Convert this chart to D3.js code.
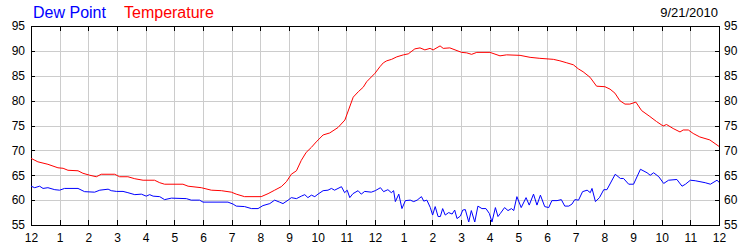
<!DOCTYPE html>
<html>
<head>
<meta charset="utf-8">
<script src="https://cdn.jsdelivr.net/npm/d3@7"></script>
<style>
  body { margin: 0; background: #fff; }
  svg { display: block; font-family: Arial, "Liberation Sans", sans-serif; }
  .grid line { stroke: #cccccc; stroke-width: 1; shape-rendering: crispEdges; }
  .axis path, .axis line { stroke: #000; shape-rendering: crispEdges; }
  .axis text { font-size: 12px; fill: #000; font-family: Arial, "Liberation Sans", sans-serif; }
</style>
</head>
<body>
<div class="viz"></div>
<script>
// hours since midnight and readings (deg F)
var tempHours = [0, 0.24, 0.59, 0.94, 1.12, 1.29, 1.64, 1.81, 2.05, 2.28, 2.45, 2.92, 3.09, 3.38, 3.62, 3.91,
  4.31, 4.49, 4.66, 5.30, 5.48, 5.94, 6.29, 6.64, 6.99, 7.16, 7.45, 8.03, 8.27, 8.50, 8.73, 8.91,
  9.08, 9.26, 9.43, 9.60, 9.78, 9.95, 10.19, 10.42, 10.71, 10.95, 11.24, 11.42, 11.59, 11.71, 12.0,
  12.17, 12.29, 12.41, 12.58, 12.76, 12.99, 13.16, 13.39, 13.57, 13.74, 13.92, 14.03, 14.27, 14.38,
  14.61, 15.02, 15.20, 15.37, 15.55, 16.01, 16.36, 16.59, 17.06, 17.41, 17.75, 18.22, 18.45, 18.69,
  18.92, 19.09, 19.26, 19.50, 19.73, 20.02, 20.20, 20.37, 20.54, 20.72, 20.89, 21.10, 21.30, 21.59,
  21.82, 22.05, 22.17, 22.40, 22.64, 22.75, 22.93, 23.10, 23.33, 23.68, 24.0];
var tempValues = [68.4, 67.7, 67.2, 66.5, 66.4, 66.0, 65.9, 65.4, 65.0, 64.7, 65.2, 65.2, 64.7, 64.7, 64.3, 64.0,
  64.0, 63.5, 63.2, 63.2, 62.8, 62.5, 62.0, 61.9, 61.6, 61.2, 60.7, 60.7, 61.3, 62.0, 62.7, 63.7,
  65.2, 65.9, 68.0, 69.6, 70.6, 71.7, 73.1, 73.5, 74.6, 76.1, 80.7, 81.8, 82.7, 83.8, 85.5,
  86.8, 87.6, 88.0, 88.3, 88.8, 89.2, 89.4, 90.4, 90.6, 90.2, 90.5, 90.2, 91.0, 90.5,
  90.6, 89.7, 89.6, 89.3, 89.7, 89.7, 89.0, 89.2, 89.1, 88.7, 88.5, 88.3, 88.0, 87.6,
  87.2, 86.4, 85.8, 84.7, 82.9, 82.8, 82.3, 81.5, 80.0, 79.3, 79.3, 79.7, 78.0, 76.8,
  75.8, 74.9, 75.2, 74.4, 73.7, 74.1, 74.1, 73.4, 72.7, 72.1, 70.8];

var dewHours = [0, 0.13, 0.30, 0.42, 0.59, 0.83, 1.0, 1.17, 1.64, 1.87, 2.22, 2.40, 2.69, 2.80, 2.98, 3.21,
  3.38, 3.62, 3.85, 4.02, 4.14, 4.26, 4.49, 4.66, 4.90, 5.42, 5.59, 5.88, 6.0, 6.87, 7.05, 7.16,
  7.45, 7.69, 7.92, 8.09, 8.33, 8.50, 8.67, 8.79, 8.97, 9.08, 9.26, 9.43, 9.55, 9.66, 9.78, 9.90,
  10.01, 10.19, 10.36, 10.48, 10.59, 10.83, 10.94, 11.03, 11.12, 11.23, 11.41, 11.52, 11.64, 11.87,
  12.01, 12.19, 12.30, 12.45, 12.57, 12.65, 12.71, 12.83, 12.94, 13.06, 13.23, 13.35, 13.47, 13.62,
  13.70, 13.81, 13.93, 14.01, 14.10, 14.20, 14.28, 14.36, 14.45, 14.57, 14.69, 14.78, 14.86, 14.98,
  15.06, 15.15, 15.27, 15.36, 15.48, 15.59, 15.73, 15.87, 15.99, 16.08, 16.20, 16.29, 16.37, 16.52,
  16.64, 16.76, 16.84, 16.95, 17.10, 17.27, 17.38, 17.53, 17.65, 17.77, 17.92, 18.06, 18.17, 18.35,
  18.50, 18.62, 18.76, 18.87, 18.97, 19.10, 19.24, 19.40, 19.51, 19.57, 19.69, 19.83, 19.98, 20.09,
  20.38, 20.56, 20.67, 20.85, 21.02, 21.26, 21.49, 21.60, 21.72, 21.90, 22.07, 22.24, 22.53, 22.71,
  22.83, 23.0, 23.17, 23.52, 23.70, 23.93, 24.0];
var dewValues = [62.8, 62.5, 62.8, 62.35, 62.5, 62.1, 62.0, 62.35, 62.35, 61.7, 61.6, 62.0, 62.2, 61.9, 61.75, 61.75,
  61.5, 61.1, 61.2, 60.8, 61.1, 60.8, 60.7, 60.1, 60.4, 60.3, 60.0, 60.0, 59.6, 59.6, 59.2, 58.8,
  58.7, 58.3, 58.3, 58.9, 59.3, 60.0, 59.6, 59.3, 60.0, 60.5, 60.3, 60.8, 61.1, 60.5, 61.0, 60.7,
  61.2, 61.9, 62.0, 62.35, 62.0, 62.7, 61.5, 62.0, 60.5, 61.3, 61.9, 61.2, 61.75, 61.6,
  61.9, 62.5, 61.7, 62.1, 61.5, 61.9, 59.7, 61.2, 58.3, 59.9, 60.0, 59.7, 60.0, 60.7,
  59.8, 60.0, 58.5, 57.0, 58.7, 56.7, 56.7, 58.3, 57.0, 57.5, 57.2, 58.0, 56.3, 56.8,
  58.0, 58.1, 55.6, 57.9, 55.6, 58.8, 58.3, 58.3, 57.3, 55.6, 58.5, 56.7, 57.3, 58.5,
  57.9, 58.3, 57.9, 60.7, 58.5, 60.5, 59.0, 61.2, 59.0, 61.0, 58.7, 58.5, 59.9, 59.9,
  60.1, 58.8, 58.8, 59.2, 60.1, 60.0, 61.7, 62.0, 61.5, 62.35, 59.7, 60.5, 62.1, 62.1,
  65.2, 64.35, 64.35, 63.2, 63.2, 66.2, 65.5, 65.0, 65.5, 64.7, 63.35, 64.0, 64.15, 62.8,
  63.2, 64.0, 63.9, 63.5, 63.2, 64.0, 63.6];

var yTicks = [55, 60, 65, 70, 75, 80, 85, 90, 95];
var xTicks = d3.range(0, 25);
var seriesNames = ["Dew Point", "Temperature"];
var dateLabel = "9/21/2010";

var width = 750,
  height = 250,
  margin = { top: 26, right: 31, bottom: 25, left: 31 },
  plotW = width - margin.left - margin.right,
  plotH = height - margin.top - margin.bottom;

var svg = d3
  .select(".viz")
  .append("svg")
  .attr("width", width)
  .attr("height", height);

var x = d3.scaleLinear().domain([0, 24]).range([0, plotW]);
var y = d3.scaleLinear().domain([55, 95]).range([plotH, 0]);

var g = svg
  .append("g")
  .attr("transform", "translate(" + margin.left + "," + margin.top + ")");

// grid
var grid = g.append("g").attr("class", "grid");
grid
  .selectAll("line.v")
  .data(xTicks.slice(1, -1))
  .enter()
  .append("line")
  .attr("x1", function (d) { return Math.round(x(d)) + 0.5; })
  .attr("x2", function (d) { return Math.round(x(d)) + 0.5; })
  .attr("y1", 0)
  .attr("y2", plotH);
grid
  .selectAll("line.h")
  .data(yTicks.slice(1, -1))
  .enter()
  .append("line")
  .attr("x1", 0)
  .attr("x2", plotW)
  .attr("y1", function (d) { return Math.round(y(d)) + 0.5; })
  .attr("y2", function (d) { return Math.round(y(d)) + 0.5; });

function hourLabel(h) {
  return h % 12 === 0 ? "12" : String(h % 12);
}

// axes, ticks pointing into the plot
g.append("g")
  .attr("class", "axis")
  .attr("transform", "translate(0," + plotH + ")")
  .call(d3.axisBottom(x).tickValues(xTicks).tickFormat(hourLabel).tickSizeInner(-5).tickSizeOuter(0).tickPadding(8));

g.append("g")
  .attr("class", "axis")
  .call(d3.axisTop(x).tickValues(xTicks).tickFormat("").tickSizeInner(-5).tickSizeOuter(0));

g.append("g")
  .attr("class", "axis")
  .call(d3.axisLeft(y).tickValues(yTicks).tickSizeInner(-4).tickSizeOuter(0).tickPadding(6));

g.append("g")
  .attr("class", "axis")
  .attr("transform", "translate(" + plotW + ",0)")
  .call(d3.axisRight(y).tickValues(yTicks).tickSizeInner(-4).tickSizeOuter(0).tickPadding(5));

// lines
var line = d3
  .line()
  .x(function (d) { return x(d[0]); })
  .y(function (d) { return y(d[1]); });

g.append("path")
  .datum(d3.zip(dewHours, dewValues))
  .attr("fill", "none")
  .attr("stroke", "#0000ff")
  .attr("stroke-width", 1)
  .attr("d", line);

g.append("path")
  .datum(d3.zip(tempHours, tempValues))
  .attr("fill", "none")
  .attr("stroke", "#ff0000")
  .attr("stroke-width", 1)
  .attr("d", line);

// legend and date
svg.append("text")
  .attr("x", 33)
  .attr("y", 18)
  .attr("fill", "#0000ff")
  .style("font-size", "16px")
  .text(seriesNames[0]);

svg.append("text")
  .attr("x", 124)
  .attr("y", 18)
  .attr("fill", "#ff0000")
  .style("font-size", "16px")
  .text(seriesNames[1]);

svg.append("text")
  .attr("x", 718)
  .attr("y", 17)
  .attr("text-anchor", "end")
  .attr("fill", "#000")
  .style("font-size", "13px")
  .text(dateLabel);
</script>
</body>
</html>
